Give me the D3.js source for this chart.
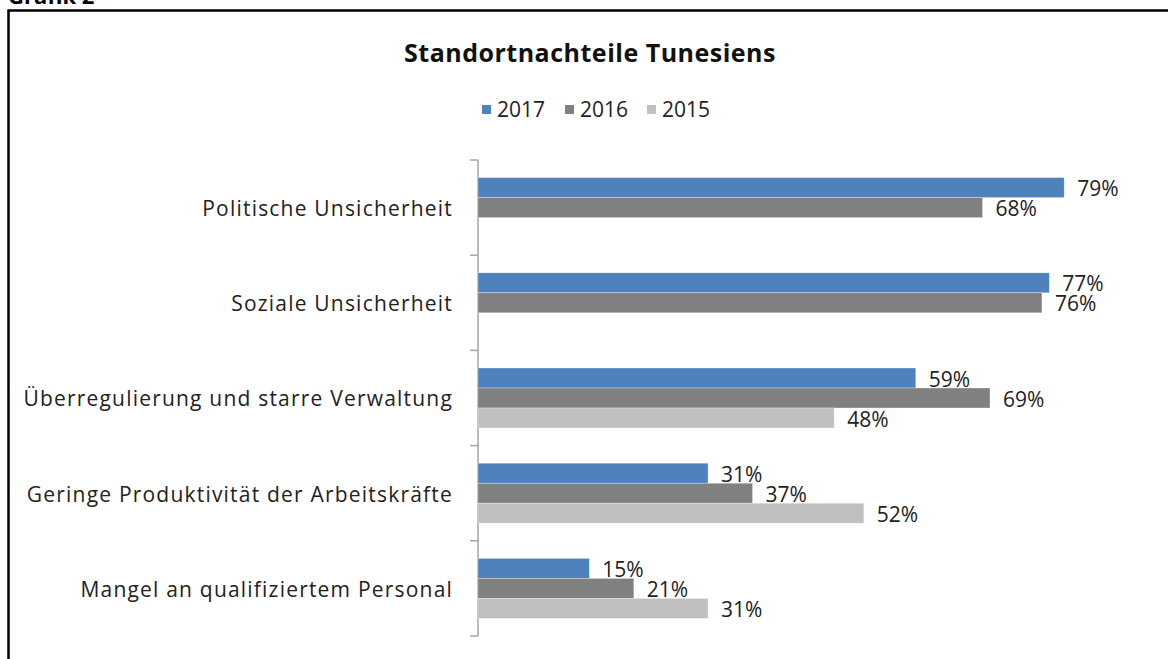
<!DOCTYPE html>
<html>
<head>
<meta charset="utf-8">
<script src="https://cdn.jsdelivr.net/npm/d3@7"></script>
<style>
  body { margin: 0; background: #fff; }
  svg { display: block; font-family: 'Open Sans', sans-serif; }
</style>
</head>
<body>
<div id="chart"></div>
<script>
'use strict'

const categories = [
  'Politische Unsicherheit',
  'Soziale Unsicherheit',
  'Überregulierung und starre Verwaltung',
  'Geringe Produktivität der Arbeitskräfte',
  'Mangel an qualifiziertem Personal'
]
const years = ['2017', '2016', '2015']
const values2017 = [79, 77, 59, 31, 15]
const values2016 = [68, 76, 69, 37, 21]
const values2015 = [null, null, 48, 52, 31]
const colors = ['#4f81bd', '#808080', '#c0c0c0']

const series = [values2017, values2016, values2015]

const width = 1168
const height = 659

const svg = d3.select('#chart')
  .append('svg')
  .attr('width', width)
  .attr('height', height)

// heading above the box, mostly cut off
svg.append('text')
  .attr('x', 8)
  .attr('y', 4)
  .attr('font-size', 22)
  .attr('font-weight', 'bold')
  .text('Grafik 2')

// chart frame
svg.append('path')
  .attr('d', 'M8.5,' + height + 'V10.5H' + (width + 5))
  .attr('fill', 'none')
  .attr('stroke', '#000')
  .attr('stroke-width', 2.5)

svg.append('text')
  .attr('x', 590)
  .attr('y', 62)
  .attr('text-anchor', 'middle')
  .attr('font-size', 25)
  .attr('letter-spacing', 0.5)
  .attr('font-weight', 'bold')
  .attr('fill', '#111')
  .text('Standortnachteile Tunesiens')

// legend
const legendX = [482, 565, 647]
const legend = svg.selectAll('.legend')
  .data(years)
  .enter()
  .append('g')
  .attr('transform', (d, i) => 'translate(' + legendX[i] + ',105)')
legend.append('rect')
  .attr('width', 9)
  .attr('height', 9)
  .attr('fill', (d, i) => colors[i])
legend.append('text')
  .attr('x', 15)
  .attr('y', 12)
  .attr('font-size', 21)
  .attr('fill', '#222')
  .text(d => d)

const x = d3.scaleLinear()
  .domain([0, 100])
  .range([478, 1220])

const y0 = d3.scaleBand()
  .domain(categories)
  .range([160, 636])

const y1 = d3.scaleBand()
  .domain(years)
  .range([0, y0.bandwidth()])
  .paddingOuter(0.88)

// vertical axis with ticks between categories
const axis = svg.append('g')
axis.append('line')
  .attr('x1', x(0)).attr('x2', x(0))
  .attr('y1', y0.range()[0]).attr('y2', y0.range()[1])
  .attr('stroke', '#a6a6a6')
  .attr('stroke-width', 1.5)
const bounds = categories.map(c => y0(c)).concat([y0.range()[1]])
axis.selectAll('.tick')
  .data(bounds)
  .enter()
  .append('line')
  .attr('x1', x(0) - 8).attr('x2', x(0))
  .attr('y1', d => d).attr('y2', d => d)
  .attr('stroke', '#a6a6a6')
  .attr('stroke-width', 1.5)

svg.selectAll('.cat')
  .data(categories)
  .enter()
  .append('text')
  .attr('x', 453)
  .attr('y', d => y0(d) + y0.bandwidth() / 2 + 1)
  .attr('dy', '0.35em')
  .attr('text-anchor', 'end')
  .attr('font-size', 21)
  .attr('letter-spacing', 1.2)
  .attr('fill', '#222')
  .text(d => d)

const bars = []
categories.forEach((c, ci) => {
  years.forEach((yr, si) => {
    const v = series[si][ci]
    if (v != null) bars.push({ cat: c, year: yr, value: v, si: si })
  })
})

svg.selectAll('.bar')
  .data(bars)
  .enter()
  .append('rect')
  .attr('x', x(0))
  .attr('y', d => y0(d.cat) + y1(d.year))
  .attr('width', d => x(d.value) - x(0))
  .attr('height', y1.bandwidth())
  .attr('fill', d => colors[d.si])
  .attr('stroke', '#fff')
  .attr('stroke-opacity', 0.5)
  .attr('stroke-width', 0.6)

svg.selectAll('.val')
  .data(bars)
  .enter()
  .append('text')
  .attr('x', d => x(d.value) + 13)
  .attr('y', d => y0(d.cat) + y1(d.year) + y1.bandwidth() / 2 + 1)
  .attr('dy', '0.36em')
  .attr('font-size', 21)
  .attr('fill', '#222')
  .text(d => d.value + '%')
</script>
</body>
</html>
